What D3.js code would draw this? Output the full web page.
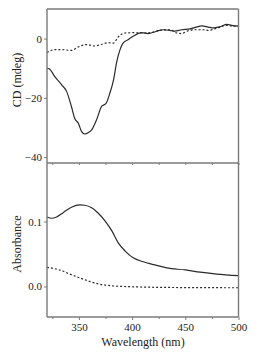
<!DOCTYPE html>
<html><head><meta charset="utf-8">
<script src="https://cdn.jsdelivr.net/npm/d3@7/dist/d3.min.js"></script>
<style>body{margin:0;background:#fff}svg{display:block}text{font-family:"Liberation Serif","DejaVu Serif",serif;fill:#222}</style>
</head><body><svg id="c" width="259" height="355"></svg>
<script>
// CD spectra (mdeg)
const cdSolidWl = [320,322,327.5,334,338.5,343,346,349.5,352.5,355.5,359,362,366.5,371.5,375.5,379,382.5,385.5,388.5,391.5,396.5,401,409,415,423,429,435.5,440,446.5,454.5,460.5,465.5,471.5,476.5,482.5,489,493.5,500];
const cdSolid = [-10,-10.2,-12.9,-15.7,-17.9,-23,-26.9,-28.6,-31.4,-32.2,-31.7,-30.8,-27.5,-22.8,-21.9,-18.5,-14,-7.9,-3.9,-1.5,-0.3,0.8,2,1.7,2.5,3,2.8,2.5,3,3.3,3.9,4.3,3.9,3.6,4,4.8,4.5,4.2];
const cdDashWl = [320,327.5,334,343,349.5,357.5,365,371.5,377.5,382.5,387,393.5,401,410.5,420,426,435.5,442,446.5,451.5,459,467,471.5,479.5,489,495,500];
const cdDash = [-4.7,-3.7,-3.7,-4.0,-2.8,-2.0,-2.5,-1.9,-1.4,-1.5,0.6,1.9,2,1.9,2.2,2.8,3,1.9,1.7,2.5,3,3,2.8,3.5,4.5,4.2,4.5];
// Absorbance spectra
const absSolidWl = [320,324.5,329,335.5,343,351,355.5,362,368,374.5,381,387,393.5,401,410.5,420,432.5,450,464,479.5,500];
const absSolid = [0.107,0.105,0.107,0.114,0.122,0.1255,0.125,0.121,0.113,0.101,0.0855,0.067,0.0545,0.044,0.038,0.0337,0.0285,0.0254,0.022,0.019,0.0166];
const absDashWl = [320,330.5,343,355.5,368,381,401,432.5,500];
const absDash = [0.0295,0.026,0.018,0.0104,0.004,0.001,-0.0005,-0.0015,-0.002];
const xTicks = [350,400,450,500];
const xMinor = [325,375,425,475];
const cdTicks = [-40,-20,0];
const absTicks = [0.0,0.1];

const FONT = '"Liberation Serif","DejaVu Serif",serif';
const svg = d3.select('#c');
const L=47, R=238.5, T=9, M=163, B=317;
const x = d3.scaleLinear().domain([320,500]).range([L,R]);
const yCD = d3.scaleLinear().domain([-42,10]).range([M,T]);
const yAbs = d3.scaleLinear().domain([-0.047,0.19]).range([B,M]);
const frame = '#7a7a7a', ink = '#2a2a2a';

function line(wl, vals, y, dash){
  const pts = wl.map((w,i)=>[w,vals[i]]);
  svg.append('path').datum(pts)
    .attr('d', d3.line().x(d=>x(d[0])).y(d=>y(d[1])).curve(d3.curveMonotoneX))
    .attr('fill','none').attr('stroke',ink).attr('stroke-width',1.2)
    .attr('stroke-dasharray', dash ? '2,2' : null);
}
line(cdDashWl, cdDash, yCD, true);
line(cdSolidWl, cdSolid, yCD, false);
line(absDashWl, absDash, yAbs, true);
line(absSolidWl, absSolid, yAbs, false);

// frame lines
const fl = (x1,y1,x2,y2)=>svg.append('line').attr('x1',x1).attr('y1',y1).attr('x2',x2).attr('y2',y2).attr('stroke',frame).attr('stroke-width',1.4);
fl(L,T,R,T); fl(R,T,R,B); fl(L,T,L,B); fl(L,M,R,M); fl(L,B,R,B);

function styleAxis(g){
  g.attr('font-family',FONT);
  g.select('.domain').remove();
  g.selectAll('line').attr('stroke',frame).attr('stroke-width',1);
  g.selectAll('text').style('font-size','11px').style('font-family',FONT).attr('fill','#222');
}
// y axes
svg.append('g').attr('transform',`translate(${L},0)`)
  .call(d3.axisLeft(yCD).tickValues(cdTicks).tickSize(3).tickPadding(2).tickFormat(d3.format('d'))).call(styleAxis);
svg.append('g').attr('transform',`translate(${L},0)`)
  .call(d3.axisLeft(yAbs).tickValues(absTicks).tickSize(3).tickPadding(2).tickFormat(d3.format('.1f'))).call(styleAxis);
// x ticks on mid line (no labels)
svg.append('g').attr('transform',`translate(0,${M})`)
  .call(d3.axisBottom(x).tickValues(xTicks.concat(xMinor)).tickSize(2).tickFormat('')).call(styleAxis);
// bottom x axis
svg.append('g').attr('transform',`translate(0,${B})`)
  .call(d3.axisBottom(x).tickValues(xMinor).tickSize(2).tickFormat('')).call(styleAxis);
svg.append('g').attr('transform',`translate(0,${B})`)
  .call(d3.axisBottom(x).tickValues(xTicks).tickSize(3).tickPadding(3).tickFormat(d3.format('d'))).call(styleAxis);

// titles
const title = (t)=>svg.append('text').style('font-family',FONT).style('font-size','12px').attr('text-anchor','middle').text(t);
title('CD (mdeg)').attr('transform','translate(21,80) rotate(-90)');
title('Absorbance').attr('transform','translate(21,244) rotate(-90)');
title('Wavelength (nm)').attr('x',143).attr('y',346);
</script></body></html>
